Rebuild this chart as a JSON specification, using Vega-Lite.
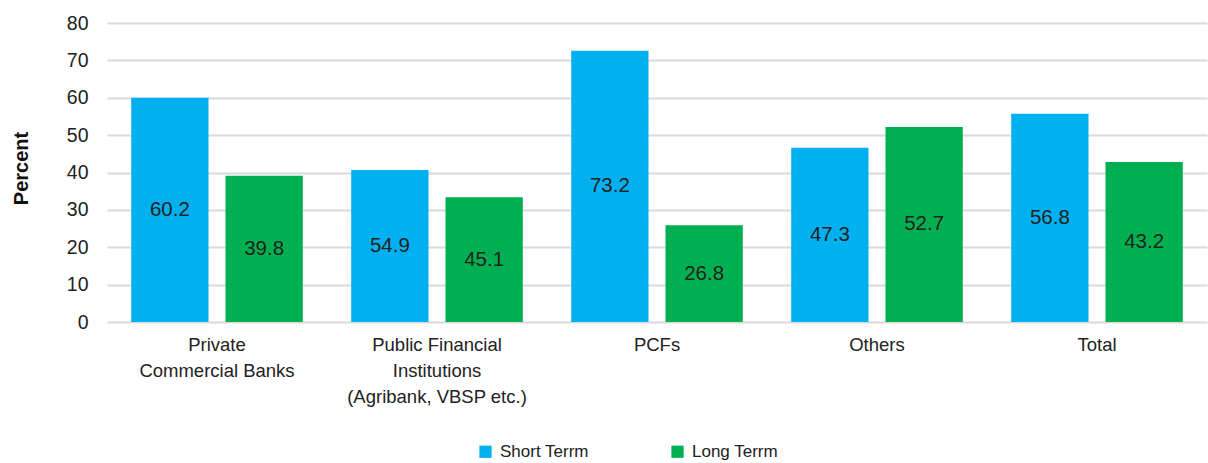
{
  "$schema": "https://vega.github.io/schema/vega-lite/v6.json",
  "autosize": {"type": "none"},
  "width": 1100,
  "height": 299,
  "padding": {"left": 107, "top": 23, "right": 1, "bottom": 141},
  "background": "white",
  "config": {
    "view": {"stroke": null},
    "font": "Liberation Sans",
    "axis": {"labelFont": "Liberation Sans", "labelColor": "#222222", "titleColor": "#111111"},
    "legend": {"labelFont": "Liberation Sans"}
  },
  "data": {
    "values": [
      {"category": "Private|Commercial Banks", "term": "Short Terrm", "value": 60.0, "label": "60.2"},
      {"category": "Private|Commercial Banks", "term": "Long Terrm", "value": 39.1, "label": "39.8"},
      {"category": "Public Financial|Institutions|(Agribank, VBSP etc.)", "term": "Short Terrm", "value": 40.7, "label": "54.9"},
      {"category": "Public Financial|Institutions|(Agribank, VBSP etc.)", "term": "Long Terrm", "value": 33.4, "label": "45.1"},
      {"category": "PCFs", "term": "Short Terrm", "value": 72.6, "label": "73.2"},
      {"category": "PCFs", "term": "Long Terrm", "value": 25.9, "label": "26.8"},
      {"category": "Others", "term": "Short Terrm", "value": 46.6, "label": "47.3"},
      {"category": "Others", "term": "Long Terrm", "value": 52.2, "label": "52.7"},
      {"category": "Total", "term": "Short Terrm", "value": 55.7, "label": "56.8"},
      {"category": "Total", "term": "Long Terrm", "value": 42.8, "label": "43.2"}
    ]
  },
  "encoding": {
    "x": {
      "field": "category",
      "type": "nominal",
      "sort": null,
      "scale": {"paddingInner": 0.22, "paddingOuter": 0.11},
      "axis": {
        "title": null,
        "labelAngle": 0,
        "labelExpr": "split(datum.label, '|')",
        "labelFontSize": 18.5,
        "labelLineHeight": 26,
        "labelPadding": 13,
        "labelBaseline": "top",
        "ticks": false,
        "domain": false,
        "grid": false,
        "labelLimit": 300
      }
    },
    "xOffset": {
      "field": "term",
      "type": "nominal",
      "sort": ["Short Terrm", "Long Terrm"],
      "scale": {"paddingInner": 0.18, "paddingOuter": 0}
    }
  },
  "layer": [
    {
      "mark": {"type": "bar"},
      "encoding": {
        "y": {
          "field": "value",
          "type": "quantitative",
          "scale": {"domain": [0, 80], "nice": false},
          "axis": {
            "title": "Percent",
            "titleFont": "Liberation Sans",
            "titleFontWeight": "bold",
            "titleFontSize": 20,
            "titleAngle": -90,
            "titleX": -86,
            "titleY": 145,
            "titleAlign": "center",
            "titleBaseline": "middle",
            "tickCount": 8,
            "tickMinStep": 10,
            "labelOverlap": false,
            "labelFontSize": 19.5,
            "labelPadding": 19,
            "ticks": false,
            "domain": false,
            "grid": true,
            "gridColor": "#d9d9d9",
            "gridWidth": 2
          }
        },
        "color": {
          "field": "term",
          "type": "nominal",
          "sort": ["Short Terrm", "Long Terrm"],
          "scale": {"domain": ["Short Terrm", "Long Terrm"], "range": ["#00b0f0", "#00b050"]},
          "legend": {
            "title": null,
            "orient": "none",
            "direction": "horizontal",
            "legendX": 370,
            "legendY": 420,
            "symbolType": "square",
            "symbolSize": 150,
            "symbolStrokeWidth": 0,
            "labelFontSize": 17,
            "labelColor": "#222222",
            "labelOffset": 6,
            "columnPadding": 80
          }
        }
      }
    },
    {
      "transform": [{"calculate": "datum.value / 2", "as": "mid"}],
      "mark": {"type": "text", "fontSize": 20.5, "color": "#222222", "baseline": "middle", "align": "center"},
      "encoding": {
        "y": {"field": "mid", "type": "quantitative", "axis": {"tickCount": 8}},
        "text": {"field": "label", "type": "nominal"}
      }
    }
  ]
}
